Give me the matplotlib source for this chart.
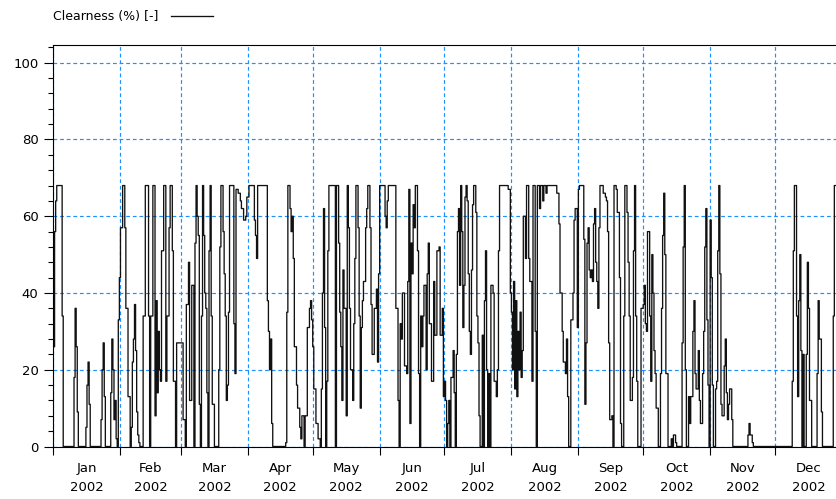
import numpy as np
import matplotlib
matplotlib.use("Agg")
import matplotlib.pyplot as plt
from matplotlib.ticker import FixedLocator, MultipleLocator, NullFormatter

# ---- data: clearness (%) sampled every 12 hours through 2002 ----
months = ["Jan", "Feb", "Mar", "Apr", "May", "Jun",
          "Jul", "Aug", "Sep", "Oct", "Nov", "Dec"]
year_label = "2002"
month_start_day = [0, 31, 59, 90, 120, 151, 181, 212, 243, 273, 304, 334, 365]
series_label = "Clearness (%) [-]"

jan = [26, 56, 64, 68, 68, 68, 68, 68, 34, 0, 0, 0, 0, 0, 0, 0, 0, 0, 0, 18,
       36, 26, 9, 0, 0, 0, 0, 0, 0, 0, 5, 16, 22, 11, 0, 0, 0, 0, 0, 0,
       0, 0, 0, 0, 7, 20, 27, 13, 0, 0, 0, 0, 0, 14, 28, 20, 7, 12, 2, 0,
       33, 44]
feb = [57, 57, 68, 68, 57, 36, 36, 13, 13, 0, 5, 22, 28, 37, 25, 9, 3, 1, 0, 0,
       0, 34, 34, 68, 68, 68, 34, 0, 34, 34, 68, 68, 8, 38, 14, 30, 20, 17, 51, 51,
       68, 68, 17, 34, 34, 57, 68, 68, 51, 17, 17, 0, 27, 27, 27, 27]
mar = [27, 27, 7, 7, 0, 37, 37, 48, 12, 12, 42, 42, 0, 53, 68, 60, 55, 11, 0, 34,
       68, 55, 40, 36, 14, 0, 51, 68, 34, 11, 11, 0, 0, 0, 0, 20, 52, 68, 68, 56,
       45, 34, 12, 16, 35, 68, 68, 68, 68, 32, 19, 67, 67, 66, 66, 64, 62, 62, 59, 59,
       60, 65]
apr = [65, 68, 68, 68, 68, 68, 59, 55, 49, 68, 68, 68, 68, 68, 68, 68, 68, 68, 38, 30,
       20, 28, 6, 0, 0, 0, 0, 0, 0, 0, 0, 0, 0, 0, 0, 1, 35, 68, 68, 62,
       56, 60, 49, 26, 26, 16, 10, 10, 5, 2, 8, 8, 0, 8, 8, 31, 31, 36, 38, 33]
may = [26, 15, 15, 6, 6, 2, 2, 0, 15, 40, 62, 31, 0, 17, 51, 68, 68, 68, 68, 68,
       68, 0, 68, 68, 53, 35, 26, 12, 46, 36, 36, 8, 68, 57, 36, 20, 20, 12, 32, 49,
       68, 68, 57, 34, 10, 31, 38, 43, 43, 57, 62, 68, 68, 57, 37, 24, 24, 36, 36, 41,
       22, 45]
jun = [68, 68, 68, 68, 68, 60, 57, 64, 68, 68, 68, 68, 68, 68, 68, 36, 36, 12, 0, 32,
       28, 40, 40, 21, 21, 19, 43, 67, 6, 53, 45, 63, 57, 68, 68, 51, 19, 0, 34, 26,
       34, 42, 42, 20, 45, 53, 32, 32, 17, 17, 43, 29, 29, 51, 51, 52, 29, 29, 36, 13]
jul = [17, 12, 0, 6, 12, 0, 18, 18, 25, 14, 0, 24, 56, 62, 42, 68, 56, 31, 42, 65,
       68, 64, 45, 30, 24, 46, 63, 68, 68, 61, 34, 27, 8, 0, 0, 29, 0, 38, 51, 20,
       0, 19, 0, 42, 42, 40, 17, 17, 13, 20, 51, 68, 68, 68, 68, 68, 68, 68, 68, 67,
       67, 40]
aug = [35, 20, 43, 15, 38, 13, 30, 20, 35, 18, 25, 60, 60, 49, 68, 68, 49, 43, 43, 17,
       68, 68, 30, 0, 68, 68, 62, 68, 68, 64, 68, 68, 66, 68, 68, 68, 68, 68, 68, 68,
       68, 68, 66, 66, 58, 40, 40, 30, 22, 22, 19, 28, 13, 0, 0, 33, 33, 40, 59, 62,
       62, 31]
sep = [67, 68, 68, 68, 68, 54, 11, 27, 53, 57, 46, 44, 46, 43, 58, 62, 48, 43, 36, 57,
       68, 68, 68, 66, 66, 65, 64, 56, 27, 7, 7, 8, 0, 68, 68, 67, 61, 61, 44, 6,
       0, 0, 34, 68, 68, 61, 48, 34, 12, 12, 18, 51, 68, 34, 17, 0, 0, 0, 36, 36]
oct_ = [37, 42, 32, 30, 56, 56, 34, 17, 50, 40, 25, 19, 10, 10, 0, 0, 19, 36, 55, 66,
        50, 19, 19, 0, 0, 0, 2, 0, 3, 3, 1, 0, 0, 0, 0, 0, 27, 52, 68, 20,
        0, 0, 13, 6, 13, 13, 30, 38, 19, 15, 15, 25, 12, 6, 6, 19, 30, 52, 62, 33,
        16, 0]
nov = [59, 44, 16, 0, 0, 15, 17, 51, 68, 45, 11, 8, 8, 21, 28, 14, 7, 11, 15, 15,
       7, 0, 0, 0, 0, 0, 0, 0, 0, 0, 0, 0, 0, 0, 0, 3, 6, 3, 3, 1,
       0, 0, 0, 0, 0, 0, 0, 0, 0, 0, 0, 0, 0, 0, 0, 0, 0, 0, 0, 0]
dec = [0, 0, 0, 0, 0, 0, 0, 0, 0, 0, 0, 0, 0, 0, 0, 0, 17, 51, 68, 68,
       34, 13, 38, 50, 25, 0, 24, 0, 0, 24, 48, 36, 12, 12, 0, 0, 0, 0, 0, 19,
       38, 28, 28, 9, 0, 0, 0, 0, 0, 0, 0, 0, 0, 0, 34, 68, 68, 68, 68, 68,
       55, 40]

clearness = jan + feb + mar + apr + may + jun + jul + aug + sep + oct_ + nov + dec
step_days = 0.5

# ---- figure ----
W, H = 837, 499
fig = plt.figure(figsize=(W / 100, H / 100), dpi=100)
ax_left, ax_right, ax_top, ax_bottom = 53.5, 841.9, 44.7, 446.5
ax = fig.add_axes([ax_left / W, 1 - ax_bottom / H,
                   (ax_right - ax_left) / W, (ax_bottom - ax_top) / H])

t = np.arange(len(clearness) + 1) * step_days
v = np.array(clearness + [clearness[-1]], dtype=float)
line, = ax.step(t, v, where="post", color="#111111", lw=0.95, label=series_label)

ax.set_xlim(month_start_day[0], month_start_day[-1])
ax.set_ylim(0, 104.7)

grid_color = "#1E90FF"
ax.set_axisbelow(True)
ax.yaxis.set_major_locator(FixedLocator([0, 20, 40, 60, 80, 100]))
ax.yaxis.set_minor_locator(MultipleLocator(4))
ax.xaxis.set_major_locator(FixedLocator(month_start_day[:-1]))
ax.xaxis.set_major_formatter(NullFormatter())
mid = [(a + b) / 2 for a, b in zip(month_start_day[:-1], month_start_day[1:])]
ax.set_xticks(mid, minor=True)
ax.set_xticklabels([f"{m}\n{year_label}" for m in months], minor=True)
for lab in ax.get_xticklabels(minor=True):
    lab.set_linespacing(1.6)

ax.grid(True, which="major", axis="both", color=grid_color,
        linestyle=(0, (3.2, 2.4)), lw=0.85)

ax.tick_params(axis="y", which="major", direction="out", length=6.8, width=0.8,
               pad=4, labelsize=9.5, colors="black")
ax.tick_params(axis="y", which="minor", direction="out", length=3.6, width=0.8)
ax.tick_params(axis="x", which="major", direction="out", length=5.8, width=0.8)
ax.tick_params(axis="x", which="minor", length=0, pad=11.5, labelsize=9.5)

for s in ax.spines.values():
    s.set_linewidth(0.8)
    s.set_color("black")

fig.legend(handles=[line], labels=[series_label], loc="center left",
           bbox_to_anchor=(53 / W, 1 - 16.5 / H), frameon=False,
           borderpad=0, borderaxespad=0, markerfirst=False,
           handlelength=3.4, handletextpad=1.0, fontsize=9)

fig.savefig("out.png", dpi=100)
